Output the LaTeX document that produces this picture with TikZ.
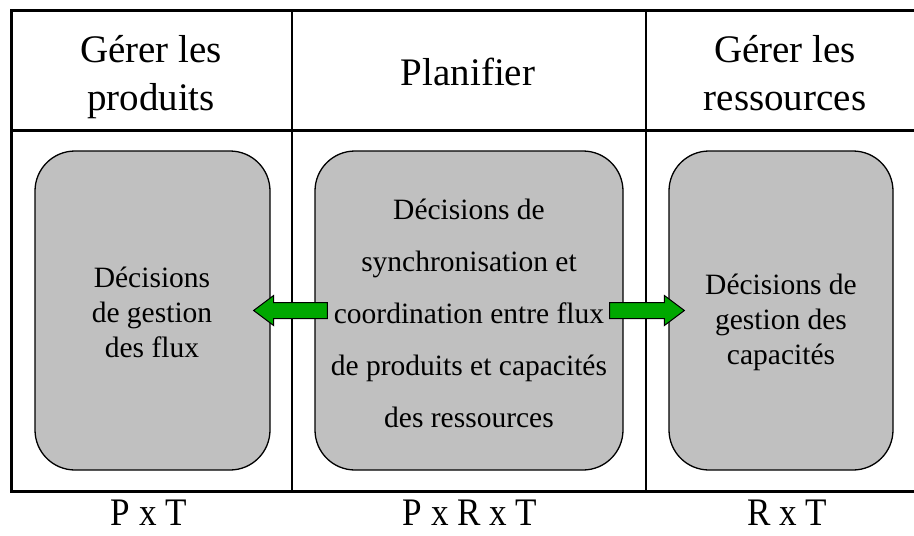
\documentclass[tikz,border=0pt]{standalone}
\usepackage{fontspec}
\setmainfont{Liberation Serif}
\usepackage{tikz}
\usetikzlibrary{calc}

\definecolor{vertfleche}{RGB}{0,168,0}
\definecolor{grisboite}{RGB}{192,192,192}

\tikzset{
    boite/.style={draw=black, line width=1.3pt, fill=grisboite, rounded corners=40pt, inner sep=0pt},
    texteboite/.style={align=center, inner sep=0pt, font=\fontsize{29.5}{35}\selectfont},
    titre/.style={align=center, inner sep=0pt, font=\fontsize{39}{48}\selectfont},
    dimension/.style={inner sep=0pt, font=\fontsize{39}{46}\selectfont},
    fleche/.style={draw=black, line width=1pt, fill=vertfleche},
}
% fleche pleine horizontale de #1 (queue) vers #2 (pointe)
\newcommand{\flechebloc}[2]{%
    \filldraw[fleche] let \p1=(#1), \p2=(#2), \p3=($(#2)!20pt!(#1)$) in
        (\x1,{\y1+8pt}) -- (\x3,{\y1+8pt}) -- (\x3,{\y1+15pt}) -- (\x2,\y2)
        -- (\x3,{\y1-15pt}) -- (\x3,{\y1-8pt}) -- (\x1,{\y1-8pt}) -- cycle;
}

\begin{document}
\begin{tikzpicture}[x=1pt, y=-1pt]
        \useasboundingbox (0,0) rectangle (914,536);
        % tableau
        \foreach \x in {292, 646} {
            \draw[black, line width=1.5pt] (\x,10) -- (\x,491);
        }
        \draw[black, line width=3pt] (914,10) -- (11,10) -- (11,491) -- (914,491);
        \draw[black, line width=3pt] (11,130) -- (914,130);
        % en-tetes
        \node[titre] (hprod) at (151,77) {Gérer les\\produits};
        \node[titre] (hplan) at (468,72) {Planifier};
        \node[titre] (hress) at (785,73) {Gérer les\\ressources};
        % boites de decision
        \node[boite, minimum width=235, minimum height=319] (gauche) at (152.5,310.5) {};
        \node[boite, minimum width=308, minimum height=319] (milieu) at (469,310.5) {};
        \node[boite, minimum width=224, minimum height=319] (droite) at (781,310.5) {};
        \node[texteboite] (tgauche) at (152,312) {Décisions\\de gestion\\des flux};
        \node[texteboite, font=\fontsize{29.5}{52}\selectfont] (tmilieu) at (469,313)
            {Décisions de\\synchronisation et\\coordination entre flux\\de produits et capacités\\des ressources};
        \node[texteboite] (tdroite) at (781,322) {Décisions de\\gestion des\\capacités};
        % fleches
        \coordinate (qg) at ([xshift=13]milieu.west);
        \coordinate (pg) at ([xshift=-17]gauche.east);
        \coordinate (qd) at ([xshift=-14]milieu.east);
        \coordinate (pd) at ([xshift=16]droite.west);
        \flechebloc{qg}{pg}
        \flechebloc{qd}{pd}
        % dimensions
        \foreach \x/\t/\n in {149/P x T/dpt, 470/P x R x T/dprt, 787/R x T/drt} {
            \node[dimension] (\n) at (\x,513) {\scalebox{0.9}[1]{\t}};
        }
\end{tikzpicture}
\end{document}
